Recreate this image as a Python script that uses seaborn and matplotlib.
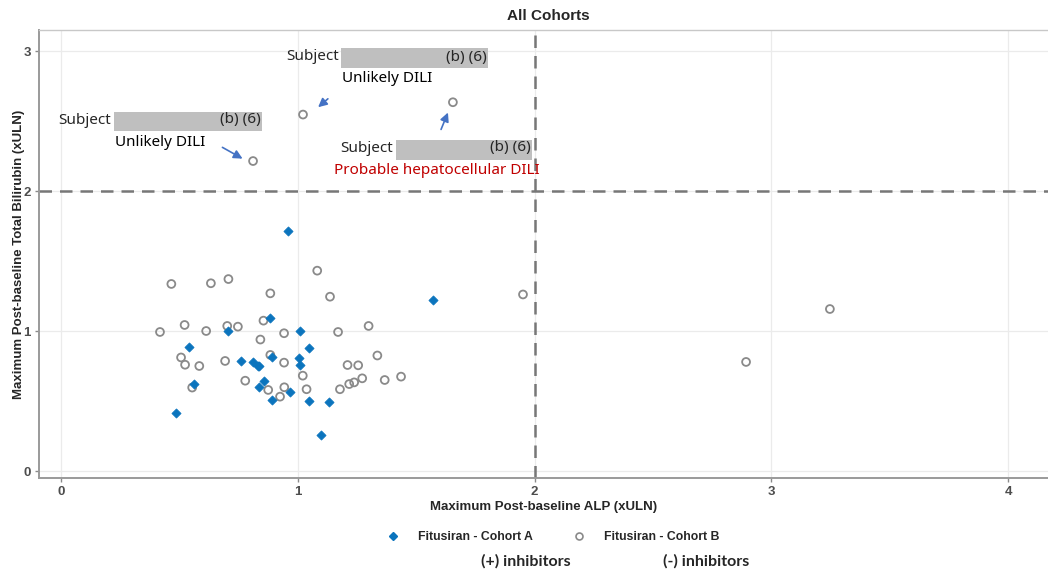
import matplotlib
matplotlib.use("Agg")
import matplotlib.pyplot as plt
import seaborn as sns
import pandas as pd
from matplotlib.lines import Line2D
from matplotlib.patches import Rectangle

# ---- data ----
cohort_a_alp = [0.960, 0.881, 0.707, 1.011, 0.542, 1.046, 0.760, 0.812, 0.830, 0.838,
                0.890, 1.006, 1.011, 0.560, 0.856, 0.837, 0.967, 0.890, 1.046, 1.130,
                0.487, 1.096, 1.570]
cohort_a_bili = [1.716, 1.095, 1.000, 1.000, 0.884, 0.876, 0.784, 0.782, 0.750, 0.752,
                 0.816, 0.804, 0.755, 0.620, 0.645, 0.598, 0.563, 0.507, 0.499, 0.491,
                 0.416, 0.257, 1.221]
cohort_b_alp = [1.022, 1.655, 0.811, 1.951, 3.247, 2.893,
                0.466, 0.633, 0.707, 1.082, 0.884, 1.136, 0.418, 0.522, 0.613, 0.702,
                0.747, 0.855, 0.842, 0.942, 1.170, 1.299, 0.507, 0.524, 0.584, 0.693,
                0.884, 0.942, 1.021, 1.210, 1.255, 1.336, 0.778, 0.875, 0.943, 0.925,
                1.037, 1.178, 1.217, 1.238, 1.272, 1.367, 1.436, 0.554]
cohort_b_bili = [2.546, 2.634, 2.214, 1.261, 1.157, 0.779,
                 1.336, 1.341, 1.371, 1.431, 1.269, 1.245, 0.993, 1.043, 1.000, 1.036,
                 1.031, 1.074, 0.939, 0.984, 0.993, 1.036, 0.811, 0.759, 0.750, 0.786,
                 0.829, 0.774, 0.681, 0.757, 0.755, 0.825, 0.645, 0.579, 0.598, 0.531,
                 0.584, 0.584, 0.621, 0.633, 0.662, 0.650, 0.674, 0.596]
series_labels = ["Fitusiran - Cohort A", "Fitusiran - Cohort B"]
sub_labels = ["(+) inhibitors", "(-) inhibitors"]
x_ticks = [0, 1, 2, 3, 4]
y_ticks = [0, 1, 2, 3]
ref_x = 2
ref_y = 2

df_a = pd.DataFrame({"alp": cohort_a_alp, "bili": cohort_a_bili})
df_b = pd.DataFrame({"alp": cohort_b_alp, "bili": cohort_b_bili})

sns.set_style("white")
plt.rcParams["font.family"] = ["Liberation Sans", "DejaVu Sans"]

W, H = 1048, 573
fig = plt.figure(figsize=(W / 100, H / 100), dpi=100)
ax = fig.add_axes([39 / W, 1 - 478 / H, 1 - 39 / W, (478 - 30) / H])

blue = "#0b74bd"
grey_edge = "#8a8a8a"

sns.scatterplot(data=df_b, x="alp", y="bili", ax=ax, marker="o", s=32,
                facecolor="none", edgecolor=grey_edge, linewidth=1.3, legend=False, zorder=3)
sns.scatterplot(data=df_a, x="alp", y="bili", ax=ax, marker="D", s=22,
                color=blue, edgecolor=blue, linewidth=0.5, legend=False, zorder=4)

ax.axvline(ref_x, color="#777777", lw=1.8, ls=(0, (5, 3.2)), zorder=2)
ax.axhline(ref_y, color="#777777", lw=1.8, ls=(0, (5, 3.2)), zorder=2)

ax.set_xlim((39 - 61) / 236.8, (W - 61) / 236.8)
ax.set_ylim((471 - 478) / 140, (471 - 30) / 140)
ax.set_xticks(x_ticks)
ax.set_yticks(y_ticks)
ax.grid(True, color="#ebebeb", lw=0.9)
ax.set_axisbelow(True)
for side in ["left", "bottom"]:
    ax.spines[side].set_color("#9a9a9a")
    ax.spines[side].set_linewidth(1.4)
ax.spines["right"].set_visible(False)
ax.spines["top"].set_color("#c8c8c8")
ax.spines["top"].set_linewidth(1.0)
ax.tick_params(axis="both", length=3, width=1, color="#8a8a8a", direction="out",
               labelsize=9.5, labelcolor="#4d4d4d", pad=3, bottom=True, left=True)
for lab in ax.get_xticklabels() + ax.get_yticklabels():
    lab.set_fontweight("bold")

ax.set_xlabel("Maximum Post-baseline ALP (xULN)", fontsize=9.5, fontweight="bold", labelpad=2)
ax.set_ylabel("Maximum Post-baseline Total Bilirubin (xULN)", fontsize=9.5, fontweight="bold", labelpad=-1)
fig.text(548 / W, 1 - 16 / H, "All Cohorts", ha="center", va="center",
         fontsize=11, fontweight="bold")

# ---- annotations ----
afont = dict(family=["Noto Sans", "DejaVu Sans"], fontsize=11)
box_col = "#bfbfbf"
arrow_col = "#4472c4"


def px2d(px, py):
    return (px - 61) / 236.8, (471 - py) / 140


def redacted(sub_left, box_l, box_r, box_t, box_b, yc, line2, line2_left, line2_y, color="black"):
    x0, y0 = px2d(box_l, box_b)
    x1, y1 = px2d(box_r, box_t)
    ax.add_patch(Rectangle((x0, y0), x1 - x0, y1 - y0, color=box_col, zorder=5, lw=0))
    sx, sy = px2d(sub_left, yc)
    ax.text(sx, sy, "Subject", ha="left", va="center", zorder=6, **afont)
    rx, _ = px2d(box_r - 1, yc)
    ax.text(rx, sy, "(b) (6)", ha="right", va="center", zorder=6, **afont)
    lx, ly = px2d(line2_left, line2_y)
    ax.text(lx, ly, line2, ha="left", va="center", color=color, zorder=6, **afont)


redacted(286, 341, 488, 48, 68, 57, "Unlikely DILI", 342, 78)
redacted(58, 114, 262, 112, 131, 120, "Unlikely DILI", 115, 142)
redacted(340, 396, 532, 140, 160, 148, "Probable hepatocellular DILI", 334, 170, color="#c00000")

for (sx, sy), (ex, ey) in [((330, 97), (316, 109)), ((220, 146), (245, 160)), ((440, 132), (449, 110))]:
    ax.annotate("", xy=px2d(ex, ey), xytext=px2d(sx, sy),
                arrowprops=dict(arrowstyle="-|>", color=arrow_col, lw=1.2, mutation_scale=13),
                zorder=6)

# ---- legend ----
handles = [Line2D([], [], marker="D", ls="none", color=blue, markersize=4.5),
           Line2D([], [], marker="o", ls="none", markerfacecolor="none",
                  markeredgecolor=grey_edge, markeredgewidth=1.2, markersize=5)]
leg = fig.legend(handles, series_labels, loc="center", bbox_to_anchor=(550 / W, 1 - 537 / H),
                 ncol=2, frameon=False, handletextpad=1.0, columnspacing=2.8,
                 prop=dict(family="Liberation Sans", weight="bold", size=8.8))
subfont = dict(family=["Lato", "DejaVu Sans"], fontweight="bold", fontsize=11.5)
fig.text(526 / W, 1 - 561 / H, sub_labels[0], ha="center", va="center", **subfont)
fig.text(706 / W, 1 - 561 / H, sub_labels[1], ha="center", va="center", **subfont)

fig.savefig("out.png", dpi=100)
